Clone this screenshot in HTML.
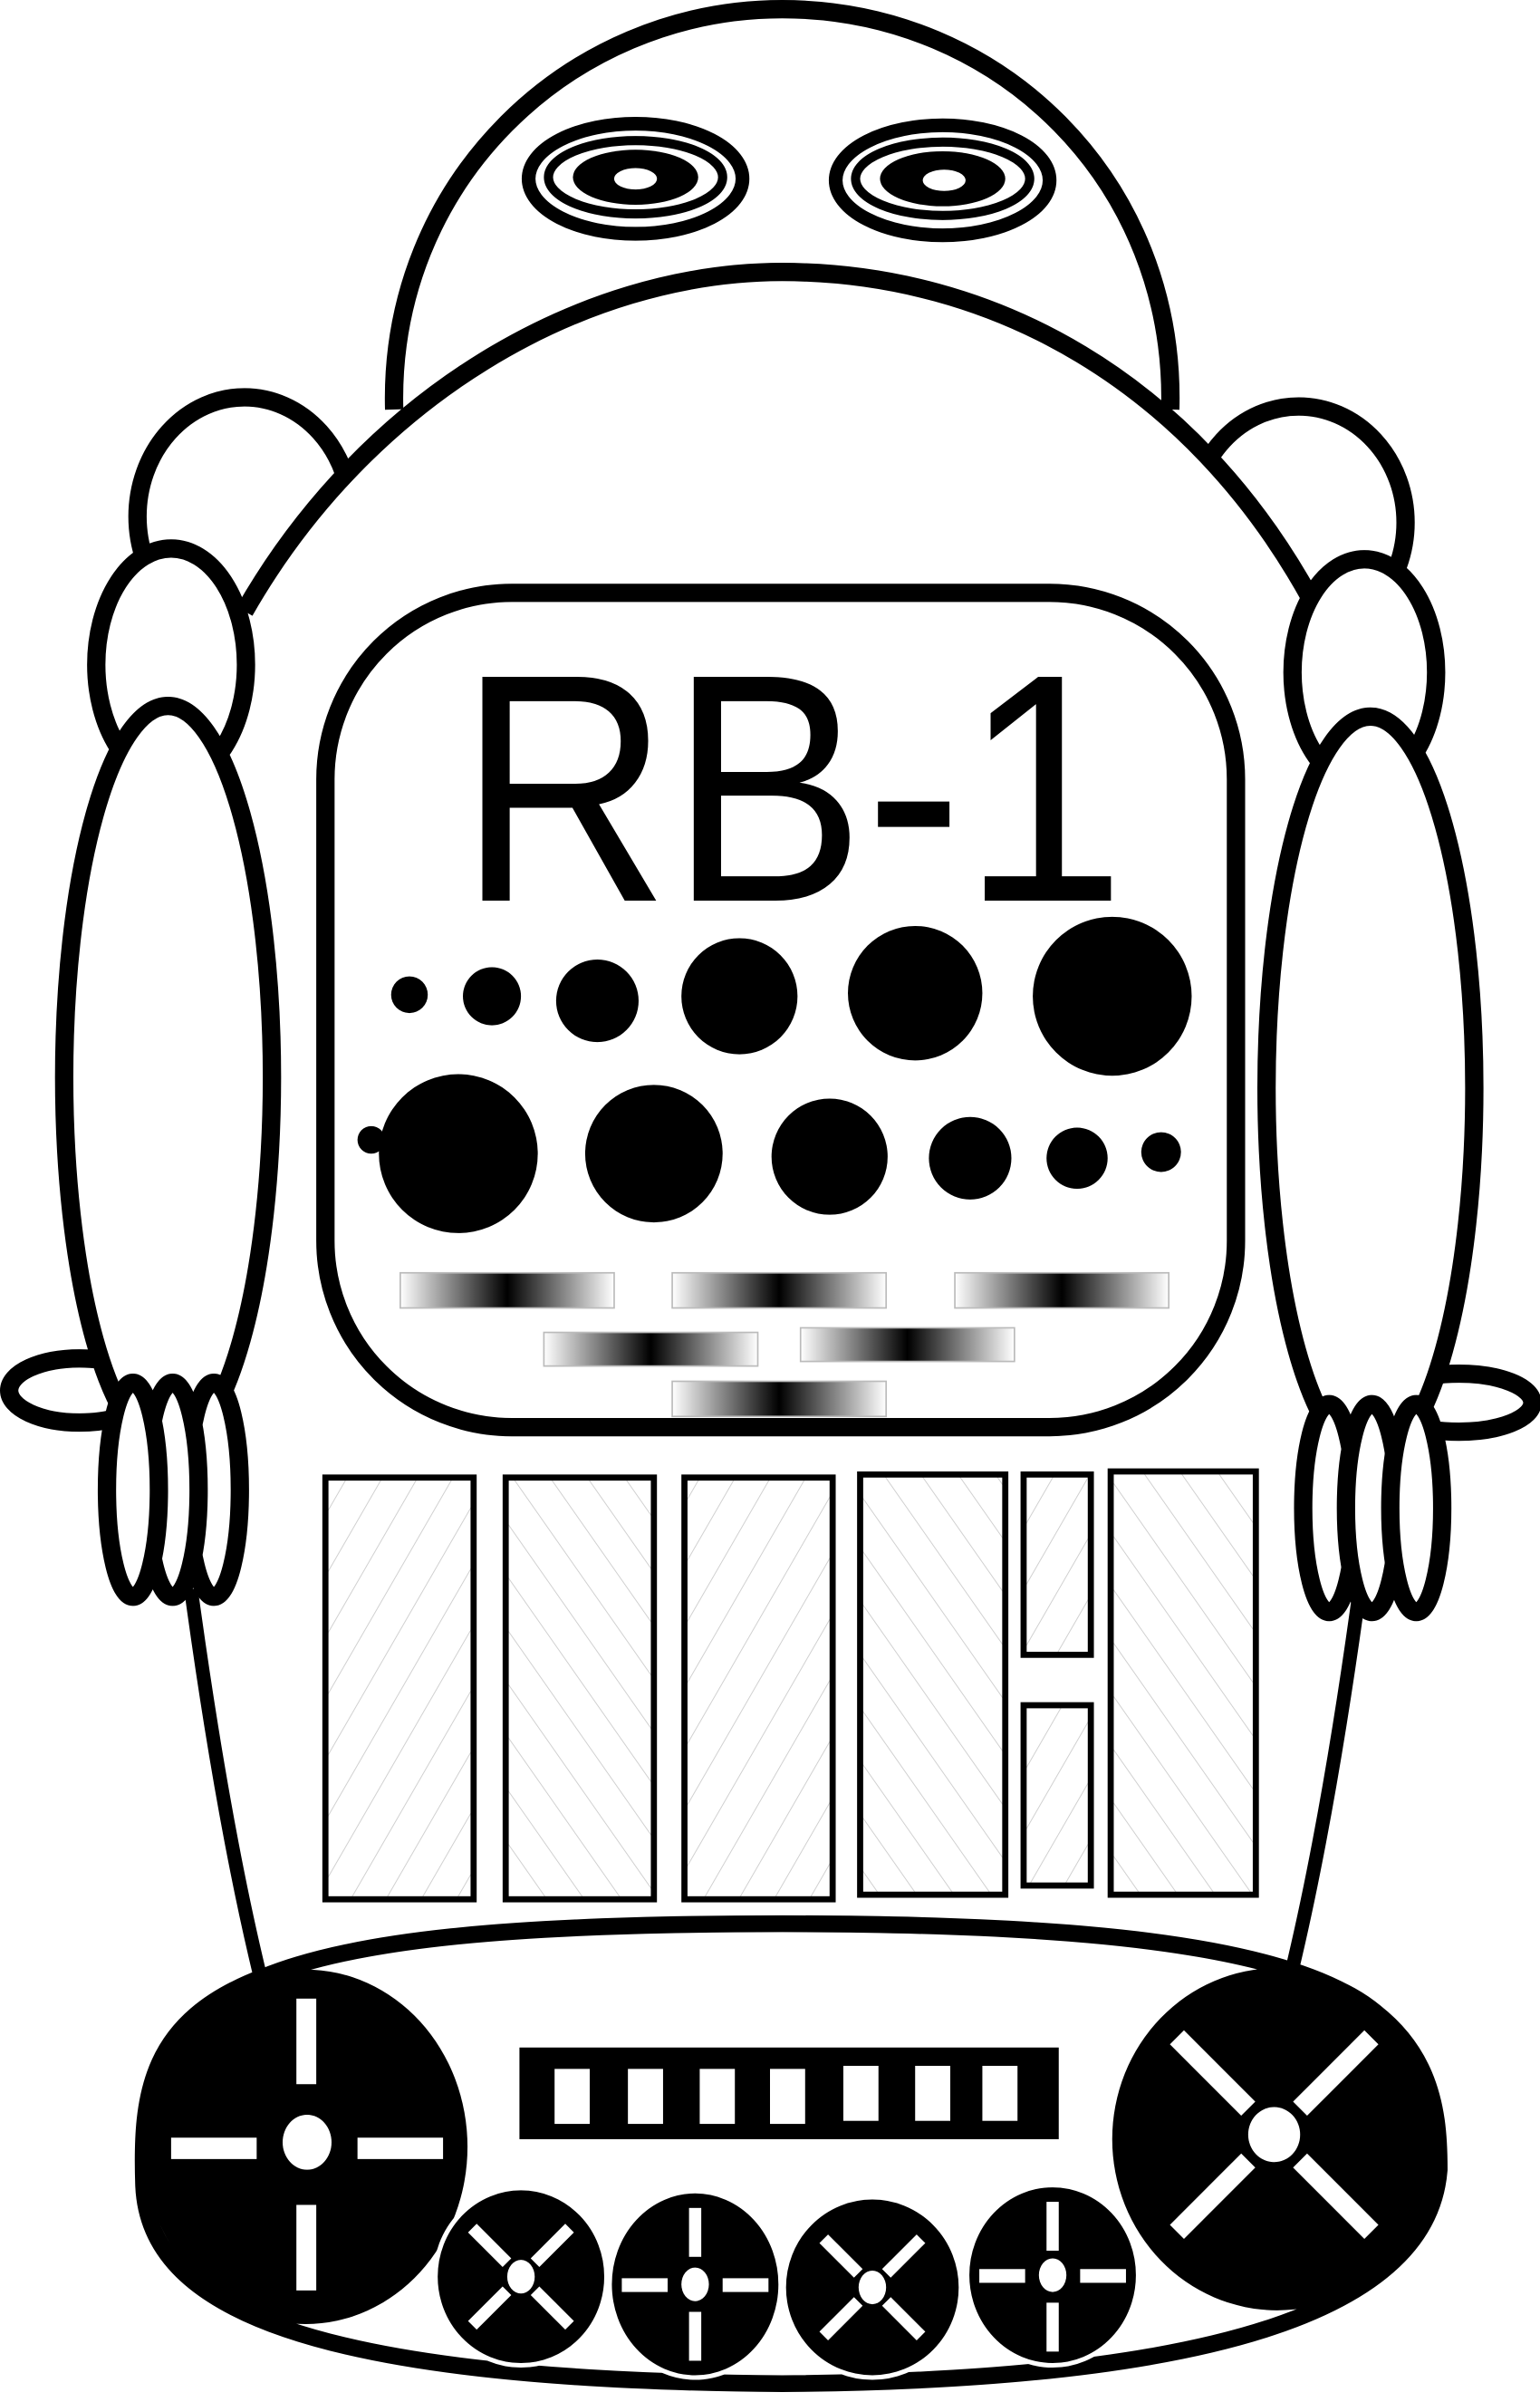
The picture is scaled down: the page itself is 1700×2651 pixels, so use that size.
<!DOCTYPE html>
<html><head><meta charset="utf-8"><style>html,body{margin:0;padding:0;background:#fff}svg{display:block}
#t{position:absolute;left:506px;top:691px;font-family:"Liberation Sans",Arial,sans-serif;font-size:359px;line-height:1;white-space:nowrap;transform:scaleX(0.9);transform-origin:0 0;color:#000}</style></head>
<body>
<div style="position:relative;width:1700px;height:2651px">
<svg width="1700" height="2651" viewBox="0 0 1008 1572" preserveAspectRatio="none" xmlns="http://www.w3.org/2000/svg">
<defs>
<pattern id="h1" width="20" height="20" patternUnits="userSpaceOnUse" patternTransform="rotate(30)"><line x1="0" y1="0" x2="0" y2="20" stroke="#c8c8c8" stroke-width="1"/></pattern>
<pattern id="h2" width="20" height="20" patternUnits="userSpaceOnUse" patternTransform="rotate(-35)"><line x1="0" y1="0" x2="0" y2="20" stroke="#c8c8c8" stroke-width="1"/></pattern>
<linearGradient id="g" x1="0" x2="1" y1="0" y2="0"><stop offset="0" stop-color="#fff"/><stop offset="0.5" stop-color="#000"/><stop offset="1" stop-color="#fff"/></linearGradient>
</defs>
<g fill="#fff" stroke="#000" stroke-width="12">
<path d="M258 268 C254 120 372 6 512 6 C655 6 770 120 766 268"/>
<ellipse cx="160" cy="338" rx="70" ry="78"/>
<ellipse cx="850" cy="342" rx="70" ry="76"/>
<path d="M160 400 C240 260 380 178 512 178 C650 178 780 250 858 392 L858 1300 L160 1300 Z" stroke="none"/>
<path d="M160 400 C240 260 380 178 512 178 C650 178 780 250 858 392" fill="none"/>
<path d="M125 1040 C140 1150 155 1230 170 1292" fill="none" stroke-width="9"/>
<path d="M890 1040 C875 1150 860 1230 845 1292" fill="none" stroke-width="9"/>
<ellipse cx="112" cy="435" rx="49" ry="76"/>
<ellipse cx="893" cy="440" rx="47" ry="74"/>
<ellipse cx="52" cy="910" rx="46" ry="21"/>
<ellipse cx="955" cy="918" rx="48" ry="19"/>
<ellipse cx="110" cy="705" rx="68" ry="243"/>
<ellipse cx="897" cy="712" rx="68" ry="243"/>
<ellipse cx="140" cy="975" rx="17" ry="70"/>
<ellipse cx="113" cy="975" rx="17" ry="70"/>
<ellipse cx="87" cy="975" rx="17" ry="70"/>
<ellipse cx="870" cy="987" rx="17" ry="68"/>
<ellipse cx="898" cy="987" rx="17" ry="68"/>
<ellipse cx="927" cy="987" rx="17" ry="68"/>
<ellipse cx="416" cy="117" rx="70" ry="36" stroke-width="9"/>
<ellipse cx="617" cy="118" rx="70" ry="36" stroke-width="9"/>
</g>
<g>
<ellipse cx="416" cy="116" rx="57" ry="24" fill="none" stroke="#000" stroke-width="6"/>
<ellipse cx="416" cy="116" rx="41" ry="18" fill="#000"/>
<ellipse cx="416" cy="117" rx="14" ry="7" fill="#fff"/>
<ellipse cx="617" cy="117" rx="57" ry="24" fill="none" stroke="#000" stroke-width="6"/>
<ellipse cx="617" cy="117" rx="41" ry="18" fill="#000"/>
<ellipse cx="618" cy="118" rx="14" ry="7" fill="#fff"/>
</g>
<rect x="213" y="388" width="596" height="546" rx="122" fill="#fff" stroke="#000" stroke-width="12"/>
<g fill="#000">
<circle cx="268" cy="651" r="12"/><circle cx="322" cy="652" r="19"/><circle cx="391" cy="655" r="27"/><circle cx="484" cy="652" r="38"/><circle cx="599" cy="650" r="44"/><circle cx="728" cy="652" r="52"/>
<circle cx="243" cy="746" r="9"/><circle cx="300" cy="755" r="52"/><circle cx="428" cy="755" r="45"/><circle cx="543" cy="757" r="38"/><circle cx="635" cy="758" r="27"/><circle cx="705" cy="758" r="20"/><circle cx="760" cy="754" r="13"/>
</g>
<g fill="url(#g)" stroke="#bbb" stroke-width="1">
<rect x="262" y="833" width="140" height="23"/><rect x="440" y="833" width="140" height="23"/><rect x="625" y="833" width="140" height="23"/>
<rect x="356" y="872" width="140" height="22"/><rect x="524" y="869" width="140" height="22"/>
<rect x="440" y="904" width="140" height="23"/>
</g>
<g stroke="#000" stroke-width="4">
<rect x="213" y="967" width="97" height="276" fill="url(#h1)"/>
<rect x="331" y="967" width="97" height="276" fill="url(#h2)"/>
<rect x="448" y="967" width="97" height="276" fill="url(#h1)"/>
<rect x="563" y="965" width="95" height="275" fill="url(#h2)"/>
<rect x="670" y="965" width="44" height="118" fill="url(#h1)"/>
<rect x="670" y="1116" width="44" height="118" fill="url(#h1)"/>
<rect x="727" y="963" width="95" height="277" fill="url(#h2)"/>
</g>
<path d="M512 1259 C700 1259 800 1272 858 1294 C938 1324 942 1380 942 1420 C935 1510 800 1558 512 1560 C200 1558 97 1510 94 1430 C92 1370 98 1322 172 1294 C230 1270 330 1259 512 1259 Z" fill="#fff" stroke="#000" stroke-width="11"/>
<rect x="340" y="1340" width="353" height="60" fill="#000"/>
<g fill="#fff"><rect x="363" y="1354" width="23" height="36"/><rect x="411" y="1354" width="23" height="36"/><rect x="458" y="1354" width="23" height="36"/><rect x="504" y="1354" width="23" height="36"/><rect x="552" y="1352" width="23" height="36"/><rect x="599" y="1352" width="23" height="36"/><rect x="643" y="1352" width="23" height="36"/></g>
<ellipse cx="200" cy="1405" rx="106" ry="116" fill="#000"/>
<g fill="#fff"><rect x="194" y="1308" width="13" height="56"/><rect x="194" y="1443" width="13" height="56"/><rect x="112" y="1399" width="56" height="14"/><rect x="234" y="1399" width="56" height="14"/><ellipse cx="201" cy="1402" rx="16" ry="18"/></g>
<ellipse cx="836" cy="1400" rx="108" ry="112" fill="#000"/>
<g fill="#fff" transform="translate(834 1397)"><g transform="rotate(45)"><rect x="-6.5" y="-90" width="13" height="66"/><rect x="-6.5" y="24" width="13" height="66"/><rect x="-90" y="-6.5" width="66" height="13"/><rect x="24" y="-6.5" width="66" height="13"/></g><ellipse cx="0" cy="0" rx="17" ry="18"/></g>
<g stroke="#fff" stroke-width="3">
<ellipse cx="341" cy="1490" rx="56" ry="58" fill="#000"/>
<ellipse cx="455" cy="1495" rx="56" ry="61" fill="#000"/>
<ellipse cx="571" cy="1497" rx="58" ry="59" fill="#000"/>
<ellipse cx="689" cy="1489" rx="56" ry="59" fill="#000"/>
</g>
<g fill="#fff">
<g transform="translate(341 1490) rotate(45)"><rect x="-4" y="-45" width="8" height="32"/><rect x="-4" y="13" width="8" height="32"/><rect x="-45" y="-4" width="32" height="8"/><rect x="13" y="-4" width="32" height="8"/></g><ellipse cx="341" cy="1490" rx="9" ry="11"/>
<g transform="translate(455 1495)"><rect x="-4" y="-50" width="8" height="32"/><rect x="-4" y="18" width="8" height="32"/><rect x="-48" y="-4" width="30" height="9"/><rect x="18" y="-4" width="30" height="9"/></g><ellipse cx="455" cy="1495" rx="9" ry="11"/>
<g transform="translate(571 1497) rotate(45)"><rect x="-4" y="-45" width="8" height="32"/><rect x="-4" y="13" width="8" height="32"/><rect x="-45" y="-4" width="32" height="8"/><rect x="13" y="-4" width="32" height="8"/></g><ellipse cx="571" cy="1497" rx="9" ry="11"/>
<g transform="translate(689 1489)"><rect x="-4" y="-48" width="8" height="32"/><rect x="-4" y="18" width="8" height="32"/><rect x="-48" y="-4" width="30" height="9"/><rect x="18" y="-4" width="30" height="9"/></g><ellipse cx="689" cy="1489" rx="9" ry="11"/>
</g>
</svg>
<div id="t">RB-1</div>
</div>
</body></html>
